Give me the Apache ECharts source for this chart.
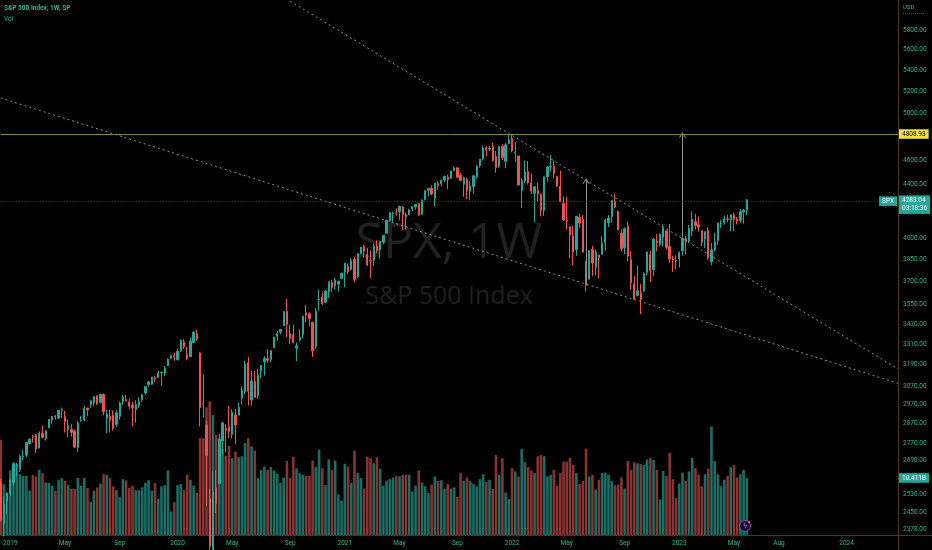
<!DOCTYPE html>
<html><head><meta charset="utf-8">
<script src="https://cdn.jsdelivr.net/npm/echarts@6/dist/echarts.min.js"></script>
<style>html,body{margin:0;padding:0;background:#000;}#c{width:932px;height:550px;}</style>
</head><body><div id="c"></div><script>
// ---------- DATA ----------
// weekly candles, each row: [open, close, low, high]
const candles2018 = [
[2590.0,2416.6,2408.6,2601.1],[2400.6,2485.7,2346.6,2520.3],[2498.9,2531.9,2444.0,2538.1]];
const candles2019 = [
[2535.6,2596.3,2524.6,2597.8],[2582.1,2670.7,2569.6,2675.5],[2657.9,2664.8,2612.9,2675.5],[2644.9,2706.5,2634.5,2716.7],
[2706.5,2707.9,2687.3,2738.0],[2712.4,2775.6,2704.1,2775.7],[2769.3,2792.7,2766.9,2794.0],[2804.4,2803.7,2774.1,2813.5],
[2814.4,2743.1,2722.3,2816.9],[2747.6,2822.5,2747.6,2830.7],[2822.6,2800.7,2800.7,2860.3],[2796.0,2834.4,2785.0,2836.0],
[2848.6,2892.7,2848.6,2893.4],[2888.5,2907.4,2869.4,2910.5],[2908.3,2905.0,2891.9,2915.6],[2898.8,2939.9,2896.4,2939.9],
[2940.6,2945.6,2898.4,2954.1],[2908.9,2881.4,2825.4,2937.3],[2840.2,2859.5,2801.4,2892.2],[2841.9,2826.1,2805.5,2868.0],
[2830.0,2752.1,2750.5,2840.5],[2751.5,2873.3,2728.8,2884.0],[2885.8,2887.0,2879.5,2910.6],[2889.8,2950.5,2883.0,2964.2],
[2951.4,2941.8,2908.4,2952.5],[2971.4,2990.4,2952.2,2996.1],[2979.8,3013.8,2963.4,3013.9],[3017.8,2976.6,2966.4,3017.8],
[2981.9,3025.9,2974.9,3028.0],[3024.5,2932.1,2914.1,3029.2],[2898.1,2918.7,2822.1,2943.3],[2907.1,2888.7,2825.7,2943.3],
[2913.5,2847.1,2835.0,2939.1],[2866.7,2926.5,2852.8,2940.4],[2909.0,2978.7,2891.9,2985.9],[2988.4,3007.4,2969.4,3021.0],
[2996.4,2992.1,2985.1,3022.0],[2983.5,2961.8,2946.5,2999.2],[2967.1,2952.0,2855.9,2983.9],[2944.2,2970.3,2874.9,2993.3],
[2965.8,2986.2,2952.9,3008.3],[2996.5,3022.6,2984.8,3027.4],[3032.1,3066.9,3023.2,3066.9],[3079.0,3093.1,3066.3,3097.8],
[3080.3,3120.5,3075.8,3120.5],[3117.9,3110.3,3091.4,3127.6],[3117.4,3141.0,3117.4,3154.3],[3143.9,3145.9,3070.3,3150.6],
[3141.9,3168.8,3124.0,3182.7],[3183.6,3221.2,3183.6,3225.6],[3226.1,3240.0,3220.5,3247.9],[3240.1,3234.9,3212.0,3258.1]];
const candles2020 = [
[3217.6,3265.4,3214.6,3283.0],[3271.1,3329.6,3263.0,3337.8],[3321.0,3295.5,3281.5,3337.5],[3247.2,3225.5,3214.6,3293.5],
[3235.7,3327.7,3235.7,3348.0],[3318.3,3380.2,3315.2,3385.1],[3369.0,3337.8,3328.5,3393.5],[3257.6,2954.2,2855.8,3259.8],
[2974.3,2972.4,2901.5,3136.7],[2863.9,2711.0,2478.9,2882.6],[2508.6,2304.9,2280.5,2553.9],[2290.7,2541.5,2191.9,2637.0],
[2559.0,2488.7,2447.5,2641.4],[2578.3,2789.8,2578.3,2818.6],[2782.5,2874.6,2719.6,2879.2],[2845.6,2836.7,2727.1,2869.0],
[2854.6,2830.7,2797.8,2964.0],[2815.0,2929.8,2797.9,2945.8],[2915.5,2863.7,2766.6,2945.8],[2913.9,2955.5,2913.9,2980.3],
[3004.1,3044.3,2969.8,3068.7],[3038.8,3193.9,3025.8,3211.7],[3199.9,3041.3,2965.7,3233.1],[2993.8,3097.7,2965.7,3155.5],
[3094.4,3009.1,3005.0,3154.9],[3018.6,3130.0,3000.8,3165.8],[3155.3,3185.0,3115.0,3186.8],[3205.1,3224.7,3127.7,3238.3],
[3224.3,3215.6,3200.1,3279.3],[3219.8,3271.1,3204.1,3272.0],[3288.3,3351.3,3284.5,3352.5],[3356.0,3372.9,3328.7,3387.9],
[3380.9,3397.2,3367.3,3400.0],[3418.1,3508.0,3418.1,3509.2],[3507.4,3427.0,3349.6,3588.1],[3371.9,3341.0,3310.0,3425.6],
[3363.6,3319.5,3313.1,3425.6],[3285.6,3298.5,3209.5,3320.3],[3333.9,3348.4,3323.7,3397.2],[3367.3,3477.1,3342.5,3482.3],
[3500.0,3483.8,3440.4,3549.9],[3493.5,3465.4,3415.9,3502.4],[3441.4,3270.0,3233.9,3441.4],[3296.2,3509.4,3279.7,3529.0],
[3583.0,3585.2,3511.9,3646.0],[3600.2,3557.5,3550.0,3628.5],[3566.8,3638.4,3560.0,3644.3],[3634.2,3699.1,3594.4,3699.2],
[3694.7,3663.5,3633.4,3712.4],[3675.3,3709.4,3647.5,3726.7],[3684.3,3703.1,3636.5,3703.8],[3723.0,3756.1,3715.4,3760.2]];
const candles2021 = [
[3764.6,3824.7,3662.7,3826.7],[3803.1,3768.3,3749.6,3823.6],[3781.9,3841.5,3774.6,3861.5],[3851.7,3714.2,3694.1,3870.9],
[3731.2,3886.8,3725.6,3894.9],[3892.6,3934.8,3884.9,3937.2],[3939.6,3906.7,3865.1,3950.4],[3885.6,3811.2,3804.5,3931.6],
[3842.5,3841.9,3723.3,3914.5],[3844.4,3943.3,3805.6,3960.3],[3943.0,3913.1,3894.8,3983.9],[3916.5,3974.5,3853.5,3978.2],
[3969.3,4019.9,3955.3,4020.6],[4034.4,4128.8,4034.4,4129.5],[4124.7,4185.5,4118.1,4191.3],[4179.8,4180.2,4118.4,4194.2],
[4185.0,4181.2,4164.4,4218.8],[4192.0,4232.6,4127.0,4238.0],[4228.3,4173.9,4056.9,4236.4],[4169.9,4155.9,4061.4,4186.7],
[4170.2,4204.1,4170.2,4213.4],[4216.5,4229.9,4197.0,4234.1],[4229.3,4247.4,4209.5,4249.7],[4248.3,4166.5,4164.4,4261.1],
[4173.4,4280.7,4173.4,4286.1],[4284.9,4352.3,4278.9,4355.4],[4356.5,4369.6,4309.4,4372.0],[4372.4,4327.2,4317.9,4393.4],
[4296.4,4411.8,4233.1,4415.2],[4409.6,4395.3,4360.0,4430.0],[4406.9,4436.5,4385.8,4442.2],[4437.8,4468.0,4421.3,4468.0],
[4461.7,4441.7,4367.7,4480.3],[4450.3,4509.4,4450.3,4513.3],[4513.8,4535.4,4513.0,4545.9],[4535.4,4458.6,4457.2,4535.4],
[4474.8,4433.0,4427.8,4492.8],[4403.0,4455.5,4305.9,4465.4],[4442.1,4357.0,4288.5,4457.3],[4348.8,4391.3,4278.9,4430.0],
[4385.4,4471.4,4329.9,4475.8],[4463.7,4544.9,4447.5,4559.7],[4553.7,4605.4,4537.4,4608.1],[4610.6,4697.5,4595.1,4718.5],
[4701.5,4682.9,4630.9,4714.9],[4689.3,4698.0,4672.7,4715.0],[4712.0,4594.6,4585.4,4743.8],[4628.8,4538.4,4495.1,4673.0],
[4548.4,4712.0,4532.8,4713.6],[4710.3,4620.6,4600.2,4732.0],[4587.9,4725.8,4531.1,4740.7],[4734.0,4766.2,4734.0,4808.9]];
const candles2022 = [
[4778.1,4677.0,4662.7,4818.6],[4655.3,4662.9,4582.2,4748.8],[4632.2,4397.9,4395.3,4632.2],[4356.3,4431.9,4222.6,4453.2],
[4431.8,4500.5,4414.0,4595.3],[4505.8,4418.6,4401.4,4590.0],[4412.6,4348.9,4327.2,4489.6],[4332.7,4384.7,4114.7,4385.0],
[4354.2,4328.9,4268.9,4416.8],[4327.0,4204.3,4157.9,4327.0],[4202.8,4463.1,4161.7,4465.4],[4462.4,4543.1,4424.3,4546.0],
[4541.1,4545.9,4506.8,4637.3],[4548.0,4488.3,4450.0,4593.5],[4462.6,4392.6,4381.3,4471.0],[4385.6,4271.8,4267.6,4512.9],
[4255.3,4131.9,4124.3,4308.5],[4130.6,4123.3,4062.5,4307.7],[4081.3,4023.9,3858.9,4081.3],[4013.0,3901.4,3810.3,4090.7],
[3919.4,4158.2,3875.1,4158.5],[4151.1,4108.5,4073.9,4177.5],[4134.7,3900.9,3900.2,4168.8],[3838.2,3674.8,3636.9,3838.2],
[3715.3,3911.7,3715.3,3913.6],[3920.8,3825.3,3738.7,3945.9],[3792.6,3899.4,3741.2,3918.5],[3880.9,3863.2,3721.6,3880.9],
[3883.8,3961.6,3883.8,4012.4],[3965.7,4130.3,3910.7,4140.2],[4112.4,4145.2,4079.8,4167.7],[4155.9,4280.2,4112.1,4280.5],
[4269.4,4228.5,4218.7,4325.3],[4195.1,4057.7,4057.7,4203.0],[4034.6,3924.3,3906.2,4063.0],[3930.9,4067.4,3886.8,4076.8],
[4083.7,3873.3,3837.1,4119.3],[3849.9,3693.2,3647.5,3907.1],[3682.7,3585.6,3584.1,3736.7],[3609.8,3639.7,3604.0,3806.9],
[3626.3,3583.1,3491.6,3685.4],[3638.7,3752.8,3636.0,3762.8],[3761.7,3901.1,3741.4,3905.4],[3881.9,3770.6,3698.2,3911.8],
[3780.7,3992.9,3735.2,4001.5],[3978.0,3965.3,3906.5,4028.8],[3956.2,4026.1,3938.7,4034.0],[4005.4,4071.7,3943.3,4101.0],
[4052.0,3934.4,3918.4,4052.5],[3939.3,3852.4,3827.4,4101.0],[3853.8,3844.8,3764.5,3876.0],[3843.3,3839.5,3780.8,3878.4]];
const candles2023 = [
[3853.3,3895.1,3794.3,3906.0],[3910.8,3999.1,3877.3,4004.0],[3999.3,3972.6,3885.5,4015.4],[3978.1,4070.6,3965.0,4094.2],
[4049.3,4136.5,4015.6,4195.4],[4119.6,4090.5,4060.8,4176.5],[4096.6,4079.1,4047.3,4156.0],[4052.4,3970.0,3943.1,4052.4],
[3992.4,4045.6,3928.2,4048.3],[4055.2,3861.6,3847.6,4078.5],[3835.1,3916.6,3808.9,3964.5],[3917.5,3971.0,3905.9,4039.5],
[3982.9,4109.3,3951.5,4110.8],[4102.2,4105.0,4072.6,4133.1],[4110.3,4137.6,4096.4,4163.2],[4139.8,4133.5,4113.6,4169.5],
[4132.1,4169.5,4049.1,4170.1],[4166.8,4136.3,4048.3,4186.9],[4137.0,4124.1,4098.9,4154.3],[4126.7,4192.0,4109.9,4212.9],
[4190.8,4205.5,4104.0,4212.9],[4204.2,4283.04,4166.2,4290.7]];

// weekly volume (billions)
const vol2018 = [17.4,9.3,7.8];
const vol2019 = [11.8,13.3,13.0,11.1,10.8,10.8,8.1,11.0,10.7,11.9,11.3,9.6,9.5,9.0,8.1,10.1,10.4,9.9,9.1,8.5,8.4,10.4,9.0,10.4,8.6,6.0,
8.1,8.7,9.4,11.1,11.0,10.4,8.9,8.2,6.9,10.2,10.0,8.6,9.0,8.2,8.2,8.7,9.5,10.0,8.1,9.5,6.6,8.9,9.1,11.8,4.3,6.0];
const vol2020 = [9.1,9.3,8.2,11.0,10.1,9.0,7.7,17.7,17.7,23.3,24.4,21.9,18.3,17.7,15.7,14.5,16.3,14.0,15.2,14.2,14.4,16.8,17.7,16.2,15.4,10.4,
11.9,12.5,11.9,12.4,11.8,11.2,9.5,10.5,13.5,10.4,14.3,12.2,11.3,11.0,10.8,10.8,13.6,12.4,15.6,12.2,9.1,13.8,11.9,13.6,7.4,6.3];
const vol2021 = [13.0,12.5,9.5,15.4,11.3,10.4,8.5,14.3,14.0,13.1,14.2,12.1,9.0,9.9,10.2,10.5,10.8,10.7,11.0,11.0,11.0,7.9,9.0,11.8,9.6,8.9,
7.7,9.2,10.7,9.9,10.0,8.4,9.3,8.5,8.7,7.0,11.3,9.9,10.5,9.8,9.3,8.9,10.2,11.1,9.7,10.1,8.4,14.6,11.0,14.0,7.8,6.6];
const vol2022 = [12.2,11.6,10.7,15.7,13.3,12.4,11.8,11.3,14.4,14.6,14.4,10.7,11.0,11.9,9.0,11.3,13.4,13.4,14.1,12.8,11.3,9.3,9.9,15.8,10.7,11.0,
8.3,10.1,11.3,11.4,11.0,9.9,9.1,9.2,10.5,8.5,13.5,11.9,13.3,13.1,13.0,12.8,13.8,14.1,13.7,11.9,6.5,11.7,10.8,15.0,10.2,6.7];
const vol2023 = [9.4,11.4,9.9,11.6,14.1,12.2,11.0,8.9,11.1,12.1,19.8,13.5,11.1,8.9,10.1,10.8,12.4,12.8,10.5,11.1,11.9,10.411];

// x axis: weekly bars starting this Monday
const firstWeek = [2018, 11, 17];
const weekCount = 280;
const xTickLabels = [
  ['2019-01-07','2019'],['2019-05-06','May'],['2019-09-02','Sep'],
  ['2020-01-06','2020'],['2020-05-04','May'],['2020-09-07','Sep'],
  ['2021-01-04','2021'],['2021-05-03','May'],['2021-09-06','Sep'],
  ['2022-01-03','2022'],['2022-05-02','May'],['2022-09-05','Sep'],
  ['2023-01-02','2023'],['2023-05-01','May'],['2023-08-07','Aug'],['2024-01-01','2024']];
const priceTicks = [2378,2450,2530,2610,2690,2770,2870,2970,3070,3190,3310,3430,3550,3700,3850,4000,4200,4400,4600,4800,5000,5200,5400,5600,5800];
const priceMin = 2352.3, priceMax = 6122;
const volumeMax = 97.7;

const levelHigh = 4808.93;
const lastPrice = 4283.04;
const lastVolume = 10.411;
const trendLines = [
  [['2020-09-07', 6110], ['2024-04-22', 3165]],
  [['2018-12-17', 5138], ['2024-04-22', 3085]]
];
const arrows = [
  ['2022-06-13', 3691, 4429],
  ['2023-01-09', 4007, 4808.93]
];

// ---------- BUILD ----------
const categories = [];
for (let k = 0; k < weekCount; k++) {
  const d = new Date(Date.UTC(firstWeek[0], firstWeek[1], firstWeek[2]) + k * 7 * 86400000);
  categories.push(d.toISOString().slice(0, 10));
}
const candles = [].concat(candles2018, candles2019, candles2020, candles2021, candles2022, candles2023);
const volumes = [].concat(vol2018, vol2019, vol2020, vol2021, vol2022, vol2023);
const L = Math.log;
const labelMap = {}; xTickLabels.forEach(t => labelMap[t[0]] = t[1]);

const UP = '#26a69a', DOWN = '#ef5350';
const VUP = '#1b6e66', VDOWN = '#8a3330';
const TXT = '#2bb58e';
const AXC = '#4f3519';
const FONT = 'Roboto, "Noto Sans", sans-serif';
const NOLINE = { color: 'rgba(0,0,0,0)', width: 0 };

const candleData = candles.map(c => c.map(v => L(v)));
const volData = volumes.map((v, i) => ({
  value: v,
  itemStyle: { color: candles[i][1] >= candles[i][0] ? VUP : VDOWN }
}));

const chevron = 'path://M0,9 L5,0 L10,9 L8.8,9.8 L5,2.6 L1.2,9.8 Z';
const markData = [];
trendLines.forEach(t => {
  markData.push([
    { coord: [t[0][0], L(t[0][1])], symbol: 'none' },
    { coord: [t[1][0], L(t[1][1])], symbol: 'none',
      lineStyle: { color: '#8d8d8d', width: 1, type: [2, 3] }, label: { show: false } }
  ]);
});
arrows.forEach(a => {
  markData.push([
    { coord: [a[0], L(a[1])], symbol: 'none' },
    { coord: [a[0], L(a[2])], symbol: chevron, symbolSize: [7, 6],
      lineStyle: { color: '#8d8d8d', width: 1, type: 'solid' }, label: { show: false } }
  ]);
});
markData.push({
  yAxis: L(levelHigh),
  lineStyle: { color: '#85853a', width: 1, type: 'solid' },
  label: { show: true, position: 'end', distance: 1, formatter: levelHigh.toFixed(2),
    backgroundColor: '#f2e33c', color: '#000', padding: [1.5, 3, 1, 3], fontSize: 6.5, fontFamily: FONT }
});
markData.push({
  yAxis: L(lastPrice),
  lineStyle: { color: '#4a4a36', width: 1, type: [1, 2] },
  label: { show: true, position: 'end', distance: 1, formatter: lastPrice.toFixed(2) + '\n03:18:36',
    backgroundColor: UP, color: '#fff', padding: [1.5, 3, 1, 3], fontSize: 6.5, lineHeight: 8,
    offset: [0, 3.5], fontFamily: FONT }
});
markData.push({
  yAxis: L(lastPrice),
  lineStyle: NOLINE,
  label: { show: true, position: 'insideEnd', distance: 1, formatter: 'SPX',
    backgroundColor: UP, color: '#fff', padding: [1.5, 3, 1, 3], fontSize: 6.5, fontFamily: FONT }
});

const chart = echarts.init(document.getElementById('c'), null, { renderer: 'canvas' });
chart.setOption({
  backgroundColor: '#000000',
  animation: false,
  grid: { left: 0, right: 34, top: 0, bottom: 15, containLabel: false },
  xAxis: {
    type: 'category', data: categories, boundaryGap: false,
    axisLine: { show: true, lineStyle: { color: AXC, width: 1 } },
    axisTick: { show: false },
    splitLine: { show: false },
    axisLabel: {
      color: TXT, fontSize: 6.5, fontFamily: FONT, margin: 5,
      interval: (idx, val) => labelMap[val] !== undefined,
      formatter: val => labelMap[val] || ''
    }
  },
  yAxis: [{
    type: 'value', position: 'right', min: L(priceMin), max: L(priceMax), scale: true,
    axisLine: { show: true, lineStyle: { color: AXC, width: 1 } },
    axisTick: { show: false, customValues: priceTicks.map(L) },
    splitLine: { show: false },
    axisLabel: {
      color: TXT, fontSize: 6.5, fontFamily: FONT, margin: 5,
      customValues: priceTicks.map(L),
      formatter: v => Math.exp(v).toFixed(2)
    }
  }, {
    type: 'value', min: 0, max: volumeMax, show: false,
    axisLine: { show: false }, splitLine: { show: false }, axisLabel: { show: false }
  }],
  series: [{
    type: 'bar', name: 'Vol', yAxisIndex: 1, data: volData, barWidth: '80%', z: 1,
    markLine: {
      silent: true, symbol: 'none', animation: false,
      data: [{ yAxis: lastVolume, lineStyle: NOLINE,
        label: { show: true, position: 'end', distance: 1, formatter: lastVolume.toFixed(3) + 'B',
          backgroundColor: UP, color: '#fff', padding: [1.5, 3, 1, 3], fontSize: 6.5, fontFamily: FONT } }]
    }
  }, {
    type: 'candlestick', name: 'SPX', data: candleData, barWidth: 1.8, z: 3,
    itemStyle: { color: UP, color0: DOWN, borderColor: UP, borderColor0: DOWN, borderWidth: 1 },
    markLine: { silent: true, symbol: 'none', animation: false, data: markData }
  }],
  graphic: { elements: [
    { type: 'text', x: 449, y: 244, z: 0, silent: true,
      style: { text: 'SPX, 1W', fontSize: 50, fontFamily: '"Open Sans", sans-serif', fill: '#212121', align: 'center', verticalAlign: 'middle' } },
    { type: 'text', x: 449, y: 297, z: 0, silent: true,
      style: { text: 'S&P 500 Index', fontSize: 25, fontFamily: '"Open Sans", sans-serif', fill: '#212121', align: 'center', verticalAlign: 'middle' } },
    { type: 'text', x: 4, y: 8.5, z: 10, silent: true,
      style: { text: 'S&P 500 Index, 1W, SP', fontSize: 6.5, fontWeight: 'bold', fontFamily: FONT, fill: TXT, verticalAlign: 'middle' } },
    { type: 'text', x: 4, y: 19, z: 10, silent: true,
      style: { text: 'Vol', fontSize: 6.5, fontFamily: FONT, fill: TXT, verticalAlign: 'middle' } },
    { type: 'text', x: 903, y: 7, z: 10, silent: true,
      style: { text: 'USD', fontSize: 6, fontFamily: FONT, fill: TXT, verticalAlign: 'middle' } },
    { type: 'line', z: 10, silent: true, shape: { x1: 903, y1: 13.5, x2: 924, y2: 13.5 },
      style: { stroke: '#3c4a44', lineWidth: 1, lineDash: [1, 1] } },
    { type: 'line', z: 10, silent: true, shape: { x1: 898, y1: 535.5, x2: 932, y2: 535.5 },
      style: { stroke: AXC, lineWidth: 1 } },
    { type: 'line', z: 10, silent: true, shape: { x1: 898.5, y1: 535, x2: 898.5, y2: 550 },
      style: { stroke: AXC, lineWidth: 1 } },
    { type: 'circle', z: 10, silent: true, shape: { cx: 745, cy: 526, r: 5.5 },
      style: { fill: '#1a0f2a', stroke: '#7d4bc4', lineWidth: 1 } },
    { type: 'text', x: 745, y: 526.5, z: 11, silent: true,
      style: { text: 'ϟ', fontSize: 7, fill: '#b48ae6', align: 'center', verticalAlign: 'middle', fontFamily: '"DejaVu Sans"' } },
    { type: 'circle', z: 11, silent: true, shape: { cx: 749, cy: 522, r: 1.3 }, style: { fill: '#ef5350' } }
  ] }
});
</script></body></html>
